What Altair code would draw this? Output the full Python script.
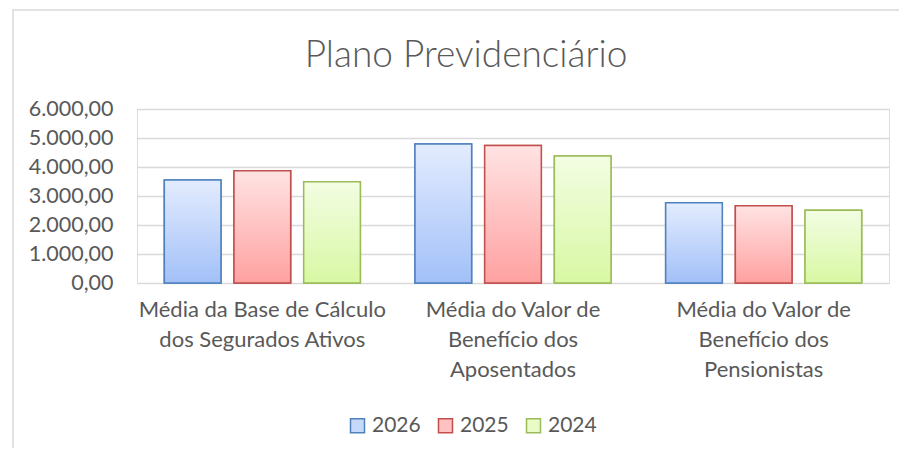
import altair as alt
import pandas as pd

title_text = "Plano Previdenciário"
categories = [
    "Média da Base de Cálculo\ndos Segurados Ativos",
    "Média do Valor de\nBenefício dos\nAposentados",
    "Média do Valor de\nBenefício dos\nPensionistas",
]
series = ["2026", "2025", "2024"]
v2026 = [3550, 4795, 2765]
v2025 = [3875, 4740, 2665]
v2024 = [3495, 4380, 2510]
y_ticks = [0, 1000, 2000, 3000, 4000, 5000, 6000]

stroke_colors = ["#4f81bd", "#c0504d", "#9bbb59"]
light_colors = ["#c6d9fb", "#ffc2c2", "#e9fbc6"]
grad_top = ["#e3ecfe", "#ffe3e3", "#f3fde3"]
grad_bot = ["#a2c0f8", "#ffa1a1", "#d8f8a3"]

rows = []
for s, vals in zip(series, [v2026, v2025, v2024]):
    for c, v in zip(categories, vals):
        rows.append({"cat": c, "serie": s, "valor": v})
df = pd.DataFrame(rows)

W, H = 752, 174
FONT = "Lato"
TXT = "#595959"

x_enc = alt.X("cat:N", sort=categories, title=None,
              scale=alt.Scale(paddingInner=0, paddingOuter=0),
              axis=alt.Axis(labelExpr="split(datum.label, '\\n')", labelAngle=0,
                            labelFontSize=22, labelColor=TXT, labelFont=FONT,
                            labelLineHeight=30, labelPadding=16, ticks=False,
                            domain=False, grid=False, labelBaseline="top", labelLimit=0))
xo_enc = alt.XOffset("serie:N", sort=series,
                     scale=alt.Scale(domain=series, paddingInner=0.187, paddingOuter=0.392))
y_enc = alt.Y("valor:Q", title=None,
              scale=alt.Scale(domain=[0, 6000], nice=False),
              axis=alt.Axis(values=y_ticks, labelFontSize=21.5, labelColor=TXT, labelFont=FONT,
                            labelExpr="replace(replace(replace(format(datum.value, ',.2f'), ',', '_'), '.', ','), '_', '.')",
                            labelPadding=24, ticks=False, domain=False,
                            gridColor="#d9d9d9", gridWidth=1.4))

base = alt.Chart(df).mark_bar(strokeWidth=1.5).encode(
    x=x_enc, xOffset=xo_enc, y=y_enc,
    fill=alt.Fill("serie:N", sort=series,
                  scale=alt.Scale(domain=series, range=light_colors),
                  legend=alt.Legend(title=None, orient="none", direction="horizontal",
                                    legendX=210, legendY=306, symbolType="square",
                                    symbolSize=196, symbolStrokeWidth=1.5,
                                    labelFontSize=21, labelColor=TXT, labelFont=FONT,
                                    columnPadding=14, labelOffset=4, padding=0)),
    stroke=alt.Stroke("serie:N", sort=series,
                      scale=alt.Scale(domain=series, range=stroke_colors)),
)

layers = [base]
for s, sc, gt, gb in zip(series, stroke_colors, grad_top, grad_bot):
    grad = alt.Gradient(gradient="linear", x1=0, x2=0, y1=0, y2=1,
                        stops=[alt.GradientStop(color=gt, offset=0),
                               alt.GradientStop(color=gb, offset=1)])
    layers.append(
        alt.Chart(df).transform_filter(alt.datum.serie == s)
        .mark_bar(fill=grad, stroke=sc, strokeWidth=1.5)
        .encode(x=x_enc, xOffset=xo_enc, y=y_enc)
    )

one = alt.Data(values=[{}])
border = alt.Chart(one).mark_rect(
    fill=None, stroke="#d9d9d9", strokeWidth=1.5
).encode(x=alt.value(-124), x2=alt.value(W + 60), y=alt.value(-99), y2=alt.value(H + 300))

title = alt.Chart(one).mark_text(
    text=title_text, fontSize=37, font=FONT, fontWeight=300, color=TXT,
    align="center", baseline="alphabetic"
).encode(x=alt.value(329), y=alt.value(-42))

chart = alt.layer(border, title, *layers).properties(
    width=W, height=H,
    autosize=alt.AutoSizeParams(type="none"),
    padding={"left": 129, "top": 101, "right": 10, "bottom": 165},
).configure_view(stroke=None).configure(background="white")

chart.save("out.html", embed_options={"renderer": "svg", "actions": False})
